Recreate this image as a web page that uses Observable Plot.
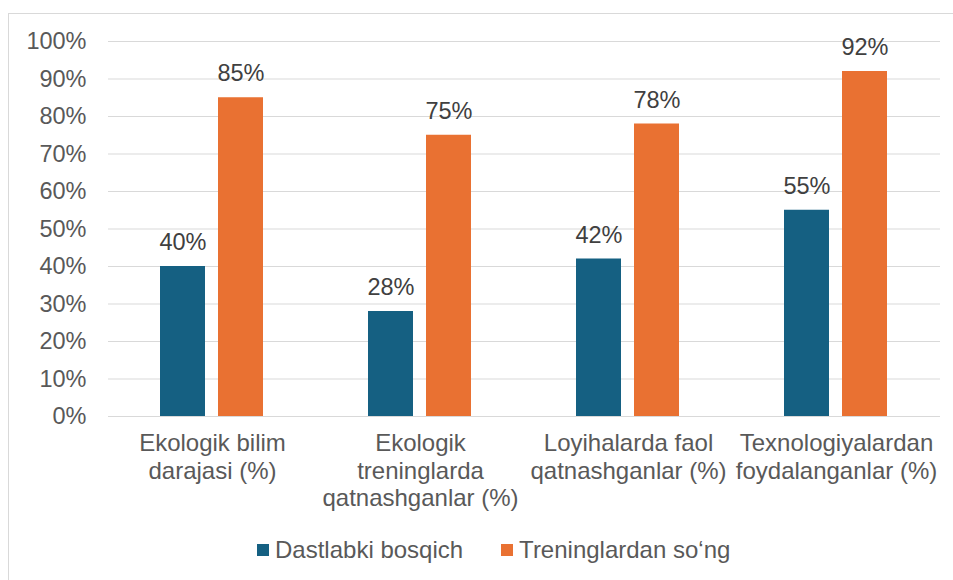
<!DOCTYPE html>
<html>
<head>
<meta charset="utf-8">
<script src="https://cdn.jsdelivr.net/npm/d3@7"></script>
<script src="https://cdn.jsdelivr.net/npm/@observablehq/plot@0.6"></script>
<style>
  html, body { margin: 0; padding: 0; background: #fff; width: 953px; height: 580px; overflow: hidden; }
  #frame { position: absolute; left: 8px; top: 13px; width: 980px; height: 600px; border: 1px solid #d9d9d9; box-sizing: border-box; }
  #chart { position: absolute; left: 0; top: 0; }
  .legend { position: absolute; top: 536px; left: 257px; height: 28px; display: flex; align-items: center; font-family: "Liberation Sans", Arial, sans-serif; font-size: 24px; color: #595959; }
  .item { display: flex; align-items: center; margin-right: 38px; }
  .sw { width: 12px; height: 12px; margin-right: 6px; }
</style>
</head>
<body>
<div id="frame"></div>
<div id="chart"></div>
<div class="legend" id="legend"></div>
<script>
const categories = [
  "Ekologik bilim\ndarajasi (%)",
  "Ekologik\ntreninglarda\nqatnashganlar (%)",
  "Loyihalarda faol\nqatnashganlar (%)",
  "Texnologiyalardan\nfoydalanganlar (%)"
];
const series = ["Dastlabki bosqich", "Treninglardan so‘ng"];
const initialValues = [40, 28, 42, 55];
const afterValues = [85, 75, 78, 92];
const yTicks = [0, 10, 20, 30, 40, 50, 60, 70, 80, 90, 100];
const colors = ["#156082", "#E97132"];

const data = categories.flatMap((c, i) => [
  {category: c, series: series[0], value: initialValues[i]},
  {category: c, series: series[1], value: afterValues[i]}
]);

const chart = Plot.plot({
  width: 953,
  height: 525,
  marginLeft: 108,
  marginRight: 13,
  marginTop: 41,
  marginBottom: 109,
  style: {fontFamily: "'Liberation Sans', Arial, sans-serif", fontSize: "24px", color: "#595959", background: "transparent"},
  fx: {domain: categories, padding: 0, label: null},
  x: {domain: series, paddingInner: 0.22, paddingOuter: 0.873, axis: null},
  y: {domain: [0, 100], label: null},
  color: {domain: series, range: colors},
  marks: [
    Plot.gridY(yTicks, {stroke: "#d9d9d9", strokeOpacity: 1, strokeWidth: 1}),
    Plot.axisY(yTicks, {tickSize: 0, tickPadding: 22, tickFormat: d => d + "%", fontSize: 23.5, label: null, fill: "#595959"}),
    Plot.axisFx({anchor: "bottom", tickSize: 0, tickPadding: 15, fontSize: 24, lineHeight: 1.15, label: null, fill: "#595959"}),
    Plot.barY(data, {fx: "category", x: "series", y: "value", fill: "series"}),
    Plot.text(data, {fx: "category", x: "series", y: "value", text: d => d.value + "%", dy: -24, fontSize: 23.5, fill: "#404040"}),
    Plot.ruleY([0], {stroke: "#d9d9d9"})
  ]
});
document.getElementById("chart").appendChild(chart);

const legend = document.getElementById("legend");
series.forEach((s, i) => {
  const item = document.createElement("div");
  item.className = "item";
  const sw = document.createElement("div");
  sw.className = "sw";
  sw.style.background = colors[i];
  const t = document.createElement("span");
  t.textContent = s;
  item.appendChild(sw);
  item.appendChild(t);
  legend.appendChild(item);
});
</script>
</body>
</html>
